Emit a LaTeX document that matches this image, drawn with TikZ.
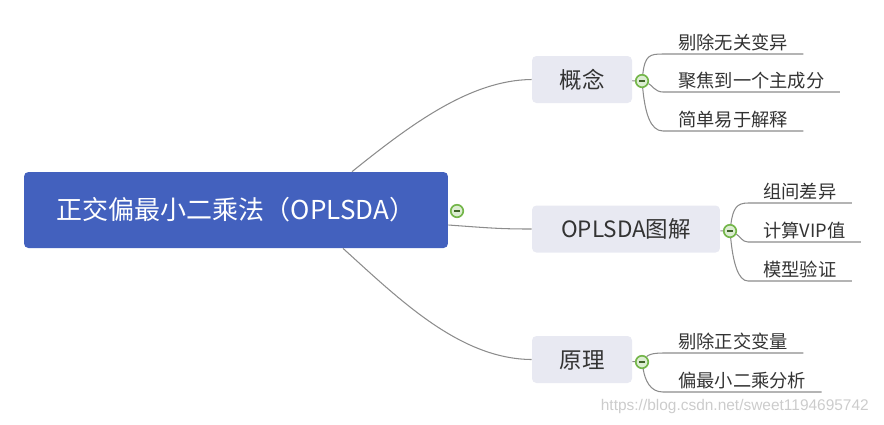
\documentclass[tikz,border=0pt]{standalone}
\usepackage{fontspec}
\setmainfont{Noto Sans CJK SC}
\newfontfamily\urlfont{Liberation Sans}
\definecolor{rootblue}{RGB}{67, 97, 190}
\definecolor{branchgray}{RGB}{232, 233, 242}
\definecolor{textgray}{RGB}{51, 51, 51}
\definecolor{linegray}{RGB}{140, 140, 140}
\definecolor{foldgreen}{RGB}{116, 182, 74}
\usetikzlibrary{positioning, calc}

\begin{document}
\begin{tikzpicture}[
  x=0.02cm, y=-0.02cm,
  root/.style={fill=rootblue, rounded corners=2.5pt, text=white, font=\fontsize{14.8}{17}\selectfont, minimum width=8.48cm, minimum height=1.52cm, text height=13pt, text depth=1.8pt},
  branch/.style={fill=branchgray, rounded corners=2.5pt, text=textgray, font=\fontsize{12.8}{15}\selectfont, minimum width=2cm, minimum height=0.94cm, text height=11.3pt, text depth=1.5pt},
  leaf/.style={anchor=south west, inner xsep=0.3cm, inner ysep=0pt, minimum height=0.44cm, text=textgray, font=\fontsize{10.4}{12}\selectfont, text height=9.2pt, text depth=1.2pt},
  fold/.style={circle, draw=foldgreen, fill=foldgreen!25, line width=0.95pt, minimum size=0.25cm, inner sep=0pt, path picture={\draw[foldgreen!55!black, line width=1.1pt] (path picture bounding box.center) +(-3,0) -- +(3,0);}},
  conn/.style={draw=linegray, line width=0.6pt}
]
  \useasboundingbox (0,0) rectangle (884,424);

  \node[root] (opls) at (236,210) {正交偏最小二乘法（OPLSDA）};
  \node[branch] (concept) at (582,79.5) {概念};
  \node[branch, minimum width=3.76cm] (graph) at (626,229) {OPLSDA图解};
  \node[branch] (theory) at (582,359.5) {原理};

  \node[fold] (f0) at (457,211) {};
  \node[fold] (f1) at (642,81) {};
  \node[fold] (f2) at (730,231) {};
  \node[fold] (f3) at (642,362) {};

  \draw[conn] ([xshift=2.32cm]opls.north) .. controls (410,125) and (470,80) .. (concept.west);
  \draw[conn] ([yshift=-0.3cm]opls.east) .. controls (490,228) and (500,229) .. (graph.west);
  \draw[conn] ([xshift=2.14cm]opls.south) .. controls (400,300) and (460,359) .. (theory.west);

  \draw[conn] (concept) -- (f1);
  \draw[conn] (graph) -- (f2);
  \draw[conn] (theory) -- (f3);

  % leaves
  \node[leaf] (c1) at (663,54) {剔除无关变异};
  \node[leaf] (c2) at (663,92) {聚焦到一个主成分};
  \node[leaf] (c3) at (663,131) {简单易于解释};
  \node[leaf] (g1) at (748,203) {组间差异};
  \node[leaf] (g2) at (748,242) {计算VIP值};
  \node[leaf] (g3) at (748,281) {模型验证};
  \node[leaf] (t1) at (663,353) {剔除正交变量};
  \node[leaf] (t2) at (663,392) {偏最小二乘分析};

  \draw[conn] (f1) .. controls (645,55) and (650,54) .. (c1.south west) -- (c1.south east);
  \draw[conn] (f1) .. controls (652,85) and (655,92) .. (c2.south west) -- (c2.south east);
  \draw[conn] (f1) .. controls (645,112) and (650,131) .. (c3.south west) -- (c3.south east);
  \draw[conn] (f2) .. controls (733,208) and (737,203) .. (g1.south west) -- (g1.south east);
  \draw[conn] (f2) .. controls (740,236) and (742,242) .. (g2.south west) -- (g2.south east);
  \draw[conn] (f2) .. controls (733,262) and (738,281) .. (g3.south west) -- (g3.south east);
  \draw[conn] (f3) .. controls (648,355) and (652,353) .. (t1.south west) -- (t1.south east);
  \draw[conn] (f3) .. controls (645,380) and (650,392) .. (t2.south west) -- (t2.south east);

  \node[anchor=east, text=gray!40, font=\urlfont\fontsize{8.8}{10}\selectfont] (mark) at (875,406) {https://blog.csdn.net/sweet1194695742};
\end{tikzpicture}
\end{document}
